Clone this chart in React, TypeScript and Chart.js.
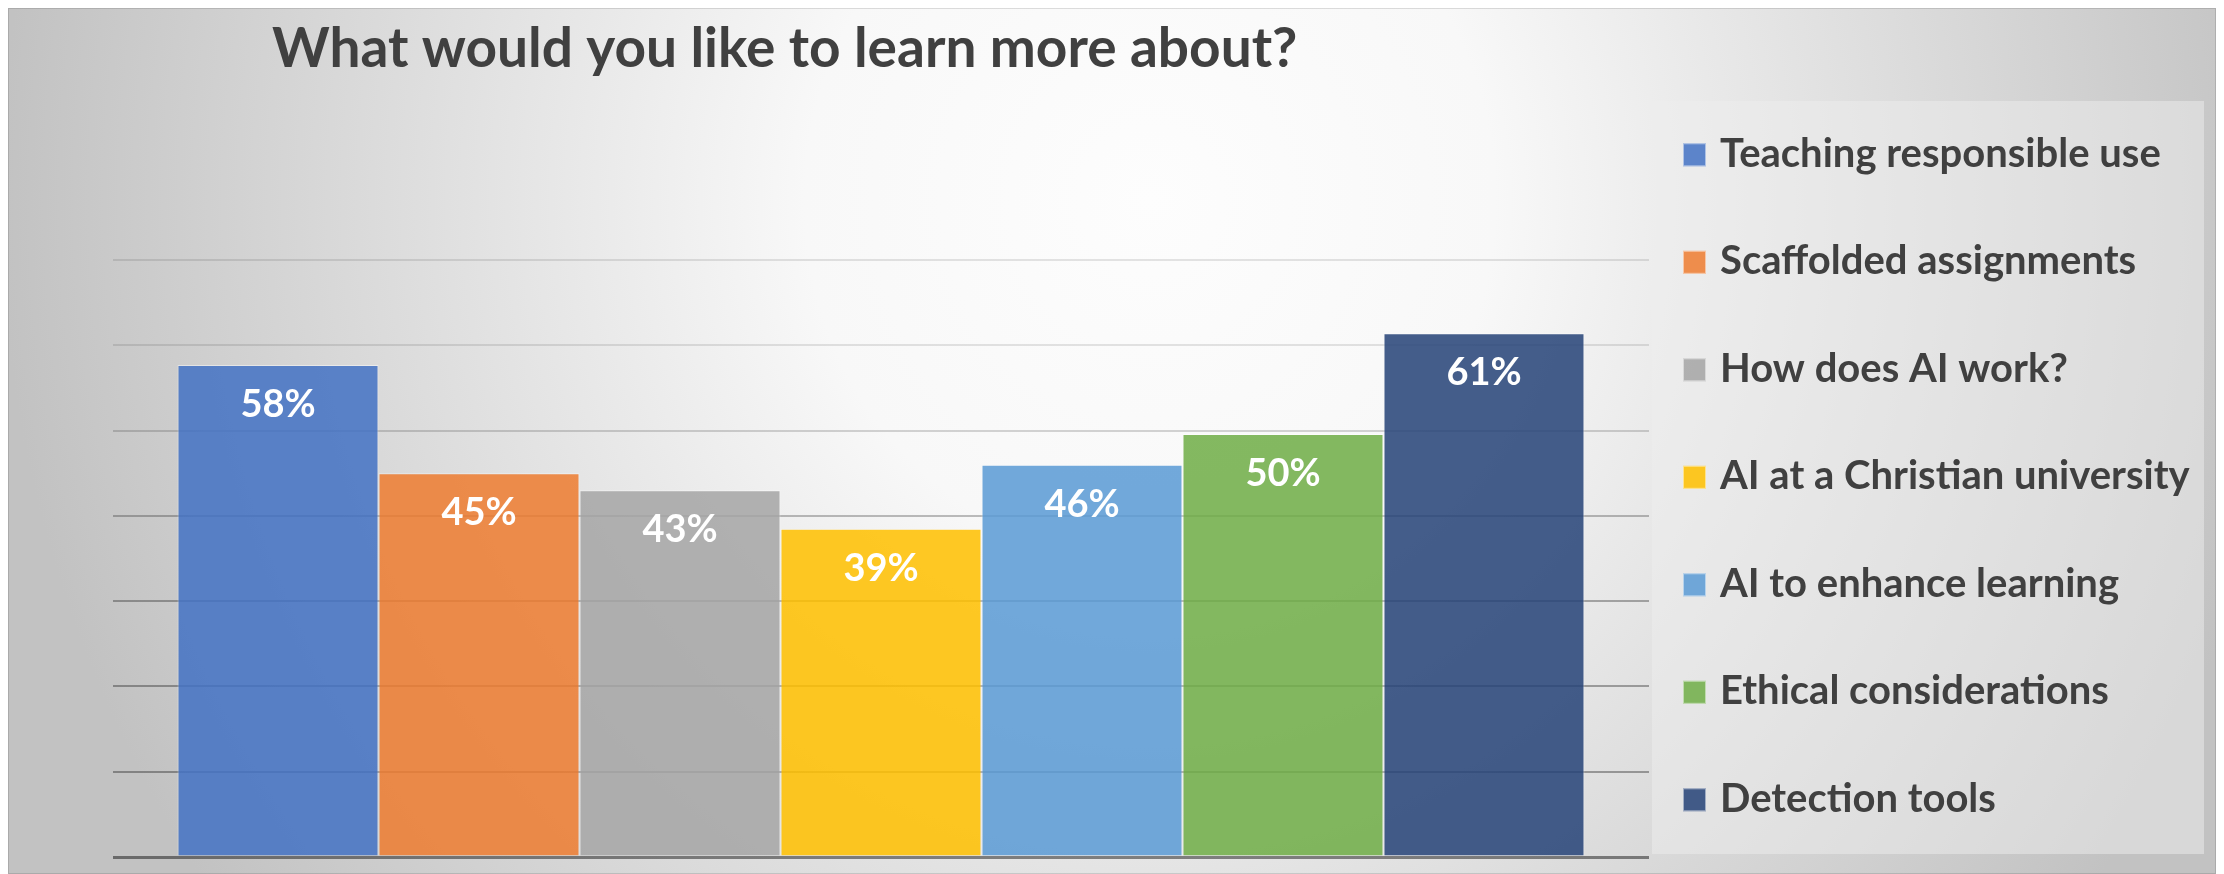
import React, { useEffect, useRef } from "react";
import { Chart, registerables } from "chart.js";

Chart.register(...registerables);

const titleText = "What would you like to learn more about?";
const categories = [
  "Teaching responsible use",
  "Scaffolded assignments",
  "How does AI work?",
  "AI at a Christian university",
  "AI to enhance learning",
  "Ethical considerations",
  "Detection tools",
];
const values = [0.577, 0.45, 0.43, 0.385, 0.46, 0.496, 0.614];
const colors = [
  "rgba(68,114,196,0.86)",
  "rgba(237,125,49,0.86)",
  "rgba(165,165,165,0.86)",
  "rgba(255,192,0,0.86)",
  "rgba(91,155,213,0.86)",
  "rgba(112,173,71,0.86)",
  "rgba(38,68,120,0.86)",
];
const yMin = 0;
const yMax = 0.7;
const yStep = 0.1;

const FONT = "Lato, 'Open Sans', sans-serif";
const TEXT_COLOR = "#404040";

const backgroundPlugin = {
  id: "bgGradient",
  beforeDraw(chart: any) {
    const { ctx, width, height } = chart;
    ctx.save();
    const cx = 1142;
    const cy = 192;
    const rx = 1150;
    const ry = 1200;
    ctx.translate(cx, cy);
    ctx.scale(1, ry / rx);
    const g = ctx.createRadialGradient(0, 0, 0, 0, 0, rx);
    g.addColorStop(0, "#fdfdfd");
    g.addColorStop(0.3, "#f8f8f8");
    g.addColorStop(1, "#c2c2c2");
    ctx.fillStyle = g;
    ctx.fillRect(-cx, -cy * (rx / ry) - 10, width + 20, (height * rx) / ry + 40);
    ctx.restore();
    // outer border
    ctx.save();
    ctx.strokeStyle = "rgba(0,0,0,0.12)";
    ctx.lineWidth = 1;
    ctx.strokeRect(0.5, 0.5, width - 1, height - 1);
    // legend box
    ctx.fillStyle = "rgba(238,238,238,0.5)";
    ctx.fillRect(1644, 93, 552, 753);
    ctx.restore();
  },
};

const overlayPlugin = {
  id: "overlay",
  afterDraw(chart: any) {
    const { ctx } = chart;
    ctx.save();
    // title
    ctx.fillStyle = TEXT_COLOR;
    ctx.font = `bold 55px ${FONT}`;
    ctx.textAlign = "left";
    ctx.textBaseline = "alphabetic";
    ctx.fillText(titleText, 264, 59);

    // legend
    ctx.font = `bold 40px ${FONT}`;
    chart.data.datasets.forEach((ds: any, i: number) => {
      const top = 135.3 + i * 107.5;
      ctx.fillStyle = ds.backgroundColor;
      ctx.fillRect(1675, top, 23, 23);
      ctx.strokeStyle = "rgba(255,255,255,0.5)";
      ctx.lineWidth = 1;
      ctx.strokeRect(1675.5, top + 0.5, 22, 22);
      ctx.fillStyle = TEXT_COLOR;
      ctx.fillText(ds.label, 1712, top + 23.3);
    });

    // data labels
    ctx.font = `bold 38px ${FONT}`;
    ctx.textAlign = "center";
    ctx.fillStyle = "#ffffff";
    chart.data.datasets.forEach((ds: any, i: number) => {
      const meta = chart.getDatasetMeta(i);
      const bar = meta.data[0];
      const v = ds.data[0] as number;
      ctx.fillText(`${Math.round(v * 100)}%`, bar.x, bar.y + 52);
    });
    ctx.restore();
  },
};

const gridAlpha = (v: number) => {
  const k = Math.round(v * 10);
  const a = [0.45, 0.33, 0.32, 0.3, 0.25, 0.16, 0.1, 0.1];
  return a[k] ?? 0.1;
};

export default function App() {
  const ref = useRef<HTMLCanvasElement | null>(null);

  useEffect(() => {
    document.body.style.overflow = "hidden";
    document.documentElement.style.overflow = "hidden";
    if (!ref.current) return;
    const chart = new Chart(ref.current, {
      type: "bar",
      data: {
        labels: [""],
        datasets: categories.map((c, i) => ({
          label: c,
          data: [values[i]],
          backgroundColor: colors[i],
          borderColor: "rgba(255,255,255,0.45)",
          borderWidth: 1,
          categoryPercentage: 0.916,
          barPercentage: 1,
        })),
      },
      options: {
        responsive: false,
        animation: false,
        devicePixelRatio: 1,
        layout: { padding: { left: 105, right: 567, top: 252, bottom: 17 } },
        plugins: {
          legend: { display: false },
          title: { display: false },
          tooltip: { enabled: false },
        },
        scales: {
          x: { display: false, offset: true },
          y: {
            min: yMin,
            max: yMax,
            ticks: { display: false, stepSize: yStep },
            border: { display: false },
            grid: {
              drawTicks: false,
              color: (c: any) => `rgba(0,0,0,${gridAlpha(c.tick.value)})`,
              lineWidth: (c: any) => (Math.round(c.tick.value * 10) === 0 ? 3 : 2),
            },
            afterFit: (s: any) => {
              s.width = 0;
            },
          },
        },
      },
      plugins: [backgroundPlugin, overlayPlugin],
    });
    return () => chart.destroy();
  }, []);

  return (
    <div style={{ width: 2208, height: 866 }}>
      <canvas ref={ref} width={2208} height={866} style={{ display: "block" }} />
    </div>
  );
}
